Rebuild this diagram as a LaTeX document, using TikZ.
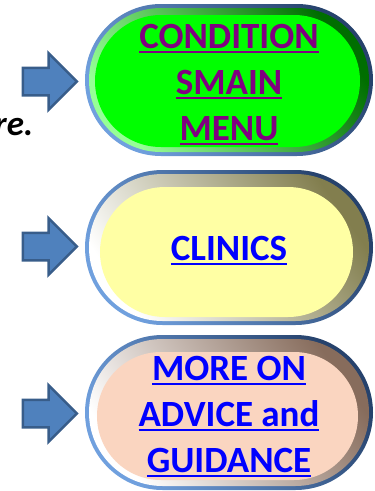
\documentclass[tikz,border=0pt]{standalone}
\usepackage{fontspec}
\setmainfont{Carlito}
\usetikzlibrary{shapes.misc,shapes.arrows}
\definecolor{bordlight}{RGB}{112,160,222}
\definecolor{borddark}{RGB}{38,66,108}
\definecolor{arrfill}{RGB}{79,129,189}
\definecolor{arrdraw}{RGB}{56,93,138}
\definecolor{gin}{RGB}{0,255,0}
\definecolor{gdark}{RGB}{0,110,0}
\definecolor{glight}{RGB}{150,255,150}
\definecolor{yin}{RGB}{255,255,164}
\definecolor{ydark}{RGB}{130,126,78}
\definecolor{pin}{RGB}{250,213,192}
\definecolor{pdark}{RGB}{135,108,92}
\definecolor{purp}{RGB}{128,0,128}
\definecolor{linkblue}{RGB}{0,0,255}
\newcommand\ulx[1]{\setbox0=\hbox{#1}\leavevmode\rlap{\rule[-4.5pt]{\wd0}{2pt}}\box0}
\tikzset{
  stadium/.style={rounded rectangle, inner sep=0pt},
  borderbox/.style={stadium, minimum width=288pt, left color=bordlight, right color=borddark, shading angle=125},
  bevelbox/.style={stadium, minimum width=280pt, shading angle=125},
  btext/.style={align=center, font=\fontsize{37}{46}\selectfont\bfseries},
  blockarrow/.style={single arrow, draw=arrdraw, fill=arrfill, line width=2.5pt,
     inner xsep=0pt, inner ysep=12.5pt, minimum height=54pt,
     single arrow head extend=14.5pt}
}
\begin{document}
\begin{tikzpicture}[x=1pt,y=-1pt]
\useasboundingbox (0,0) rectangle (375,491);
% box 1
\node[borderbox, minimum height=152pt] (b1) at (229,80) {};
\node[bevelbox, minimum height=144pt, left color=glight, right color=gdark, shading angle=125] (o1) at (229,80) {};
\node[stadium, fill=gin, minimum width=265pt, minimum height=132pt] (i1) at (227.5,81) {};
\node[btext, text=purp] (t1) at (229,85) {\ulx{CONDITION}\\\ulx{SMAIN}\\\ulx{MENU}};
% box 2
\node[borderbox, minimum height=155pt] (b2) at (229,247.5) {};
\node[bevelbox, minimum height=147pt, left color=white, right color=ydark, shading angle=125] (o2) at (229,247.5) {};
\node[stadium, fill=yin, minimum width=253pt, minimum height=130pt] (i2) at (226.5,252) {};
\node[btext, text=linkblue] (t2) at (229,251) {\ulx{CLINICS}};
% box 3
\node[borderbox, minimum height=155pt] (b3) at (229,412.5) {};
\node[bevelbox, minimum height=147pt, left color=white, right color=pdark, shading angle=125] (o3) at (229,412.5) {};
\node[stadium, fill=pin, minimum width=261pt, minimum height=128pt] (i3) at (227.5,416) {};
\node[btext, text=linkblue] (t3) at (229,417) {\ulx{MORE ON}\\\ulx{ADVICE and}\\\ulx{GUIDANCE}};
% arrows
\node[blockarrow] (a1) at (43,81.5) {};
\node[blockarrow] (a2) at (43,246.5) {};
\node[blockarrow] (a3) at (43,413.5) {};
% text
\node[anchor=base east, inner sep=0pt, font=\fontsize{35}{40}\selectfont\bfseries\itshape] (re) at (33.5,135) {re.};
\end{tikzpicture}
\end{document}
